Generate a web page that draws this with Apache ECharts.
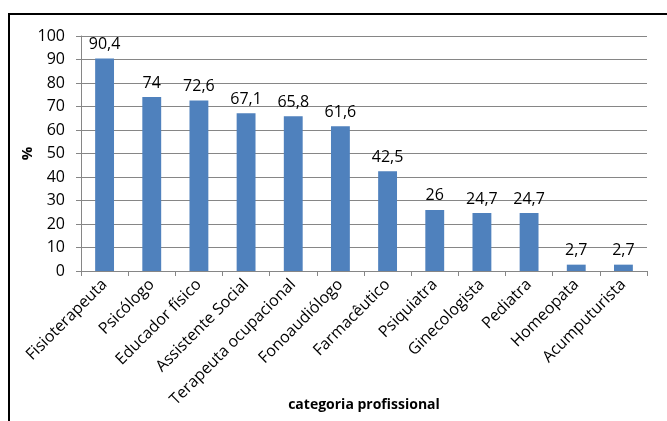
<!DOCTYPE html>
<html><head><meta charset="utf-8">
<script src="https://cdn.jsdelivr.net/npm/echarts@6/dist/echarts.min.js"></script>
<style>html,body{margin:0;padding:0;background:#fff}#c{width:667px;height:421px}</style>
</head><body><div id="c"></div>
<script>
var categories = ["Fisioterapeuta","Psicólogo","Educador físico","Assistente Social","Terapeuta ocupacional","Fonoaudiólogo","Farmacêutico","Psiquiatra","Ginecologista","Pediatra","Homeopata","Acumputurista"];
var values = [90.4,74,72.6,67.1,65.8,61.6,42.5,26,24.7,24.7,2.7,2.7];
var valueLabels = ["90,4","74","72,6","67,1","65,8","61,6","42,5","26","24,7","24,7","2,7","2,7"];
var chart = echarts.init(document.getElementById('c'));
var font = '"Open Sans", "Liberation Sans", sans-serif';
chart.setOption({
  animation:false,
  graphic:[{type:'rect',shape:{x:9,y:14,width:700,height:450},style:{fill:'none',stroke:'#000',lineWidth:2},silent:true}],
  grid:{left:81,right:20,top:36,bottom:150,containLabel:false,outerBoundsMode:'none'},
  xAxis:{type:'category',data:categories,
    axisLine:{lineStyle:{color:'#868686'}},
    axisTick:{show:true,alignWithLabel:false,length:5,lineStyle:{color:'#868686'}},
    axisLabel:{rotate:45,fontSize:16,color:'#000',fontFamily:font,interval:0,margin:11},
    name:'categoria profissional',nameLocation:'middle',nameGap:127,nameMoveOverlap:false,
    nameTextStyle:{fontWeight:'bold',fontSize:14,color:'#000',fontFamily:font}},
  yAxis:{type:'value',min:0,max:100,interval:10,
    axisLine:{show:true,lineStyle:{color:'#868686'}},
    axisTick:{show:true,length:5,lineStyle:{color:'#868686'}},
    splitLine:{lineStyle:{color:'#868686'}},
    axisLabel:{fontSize:16,color:'#000',fontFamily:font,margin:16},
    name:'%',nameLocation:'middle',nameGap:46,nameRotate:90,nameMoveOverlap:false,
    nameTextStyle:{fontWeight:'bold',fontSize:15,color:'#000',fontFamily:font}},
  series:[{type:'bar',data:values,barCategoryGap:'60%',
    itemStyle:{color:'#4F81BD'},
    label:{show:true,position:'top',fontSize:16,color:'#000',fontFamily:font,distance:6,
      formatter:function(p){return valueLabels[p.dataIndex];}}}]
});
</script></body></html>
